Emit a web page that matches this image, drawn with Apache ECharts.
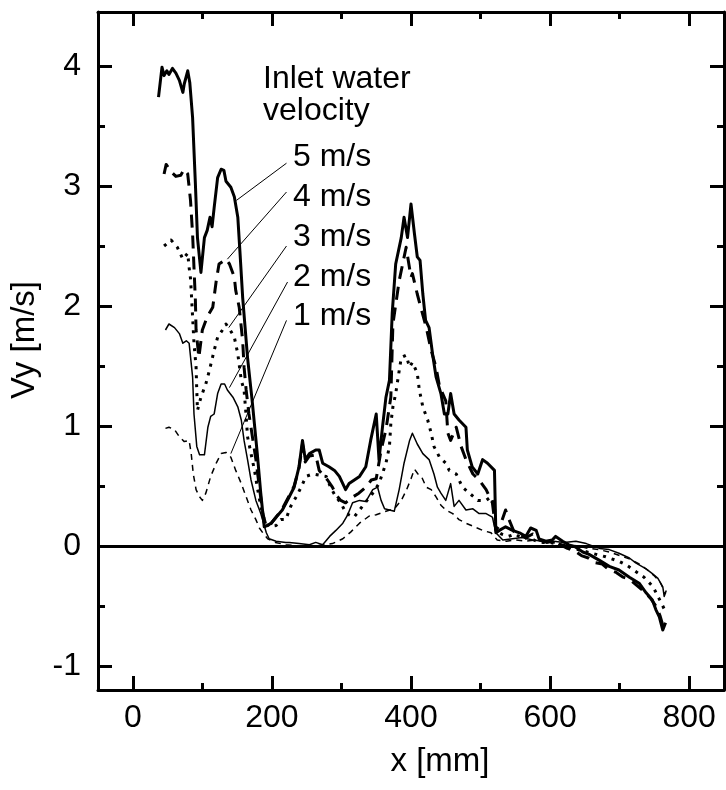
<!DOCTYPE html>
<html><head><meta charset="utf-8">
<script src="https://cdn.jsdelivr.net/npm/echarts@6/dist/echarts.min.js"></script>
<style>html,body{margin:0;padding:0;background:#fff}#c{width:726px;height:790px}</style>
</head><body><div id="c"></div>
<script>
const xMajorTicks=[0,200,400,600,800];
const xMinorTicks=[100,300,500,700];
const yMajorTicks=[-1,0,1,2,3,4];
const yMinorTicks=[-0.5,0.5,1.5,2.5,3.5];
const seriesNames=['5 m/s','4 m/s','3 m/s','2 m/s','1 m/s'];
const legendTitle=['Inlet water','velocity'];

const v5=[[37,3.74],[42,3.99],[45,3.92],[49,3.96],[52,3.93],[57,3.98],[62,3.94],[67,3.88],[72,3.78],[74,3.85],[79,3.96],[82,3.86],[86,3.57],[90,3.02],[93,2.57],[98,2.28],[103,2.57],[107,2.63],[111,2.74],[114,2.66],[117,2.82],[122,3.07],[127,3.14],[131,3.13],[134,3.04],[141,2.99],[146,2.91],[151,2.74],[154,2.46],[158,2.07],[165,1.57],[172,1.19],[179,0.77],[184,0.44],[189,0.16],[193,0.17],[199,0.19],[206,0.24],[215,0.30],[225,0.41],[232,0.49],[239,0.66],[244,0.88],[248,0.72],[254,0.77],[263,0.80],[268,0.80],[273,0.69],[282,0.66],[290,0.63],[297,0.58],[306,0.47],[311,0.52],[326,0.58],[335,0.66],[342,0.88],[350,1.10],[354,0.72],[359,0.99],[364,1.24],[369,1.38],[373,1.94],[378,2.35],[386,2.57],[390,2.74],[395,2.57],[400,2.85],[405,2.60],[409,2.41],[413,2.38],[417,2.10],[421,1.88],[426,1.82],[431,1.60],[436,1.41],[443,1.27],[448,1.10],[453,1.10],[457,1.27],[462,1.10],[469,1.05],[479,0.99],[481,0.80],[488,0.66],[496,0.60],[503,0.72],[510,0.69],[520,0.63],[522,0.11],[527,0.13],[536,0.16],[546,0.13],[556,0.11],[565,0.08],[572,0.15],[580,0.13],[584,0.06],[594,0.04],[603,0.05],[608,0.08],[618,0.04],[627,0.01],[637,-0.01],[647,-0.05],[656,-0.07],[671,-0.12],[685,-0.17],[699,-0.20],[714,-0.26],[728,-0.31],[738,-0.39],[747,-0.45],[752,-0.53],[757,-0.59],[762,-0.70],[766,-0.64]];

const v4=[[45,3.10],[48,3.18],[55,3.12],[62,3.08],[69,3.09],[74,3.14],[79,3.10],[83,2.88],[86,2.60],[88,2.32],[90,2.05],[91,1.80],[95,1.57],[100,1.80],[107,1.91],[115,1.99],[120,2.21],[124,2.35],[134,2.39],[139,2.35],[146,2.24],[148,2.13],[153,1.99],[158,1.71],[160,1.49],[163,1.30],[167,1.10],[172,0.91],[177,0.72],[182,0.49],[187,0.27],[192,0.16],[199,0.19],[206,0.24],[215,0.31],[225,0.42],[232,0.50],[239,0.65],[244,0.85],[248,0.70],[254,0.75],[263,0.76],[268,0.63],[280,0.55],[287,0.49],[293,0.42],[299,0.38],[306,0.36],[314,0.40],[325,0.44],[335,0.49],[343,0.55],[350,0.56],[357,0.80],[364,0.97],[371,1.24],[374,1.85],[383,2.21],[393,2.49],[400,2.24],[402,2.27],[409,2.10],[414,1.99],[422,1.82],[429,1.63],[436,1.49],[441,1.33],[450,1.21],[453,0.94],[457,0.88],[465,0.99],[472,0.83],[479,0.72],[489,0.60],[498,0.55],[508,0.47],[517,0.36],[522,0.13],[530,0.20],[536,0.30],[541,0.22],[548,0.12],[556,0.10],[565,0.07],[575,0.10],[585,0.05],[595,0.03],[605,0.04],[615,0.01],[625,-0.02],[635,-0.04],[645,-0.08],[655,-0.10],[665,-0.14],[675,-0.15],[685,-0.20],[695,-0.22],[705,-0.26],[715,-0.28],[725,-0.33],[735,-0.38],[745,-0.44],[752,-0.50],[758,-0.58],[762,-0.66],[765,-0.62]];

const v3=[[45,2.50],[55,2.55],[64,2.49],[72,2.39],[79,2.44],[81,2.32],[83,2.23],[84,2.13],[86,1.91],[88,1.69],[91,1.49],[92,1.30],[93,1.13],[98,1.24],[105,1.35],[110,1.46],[117,1.63],[122,1.74],[129,1.80],[134,1.85],[140,1.80],[146,1.74],[151,1.60],[156,1.38],[160,1.30],[163,1.08],[165,0.91],[170,0.77],[175,0.63],[179,0.49],[184,0.33],[189,0.22],[196,0.16],[206,0.17],[213,0.22],[220,0.22],[227,0.33],[235,0.41],[242,0.49],[249,0.58],[259,0.60],[268,0.59],[278,0.58],[285,0.48],[292,0.41],[299,0.36],[307,0.27],[318,0.24],[330,0.33],[345,0.44],[354,0.52],[364,0.69],[369,0.83],[371,1.02],[374,1.16],[378,1.27],[383,1.46],[386,1.57],[393,1.59],[398,1.49],[402,1.53],[409,1.44],[412,1.30],[417,1.16],[424,1.05],[429,0.94],[433,0.83],[441,0.74],[450,0.69],[455,0.63],[465,0.60],[474,0.49],[484,0.44],[496,0.38],[508,0.38],[515,0.41],[520,0.33],[522,0.13],[530,0.10],[540,0.08],[550,0.10],[560,0.06],[570,0.07],[580,0.04],[590,0.03],[600,0.03],[620,0.00],[640,-0.03],[660,-0.06],[680,-0.09],[700,-0.13],[710,-0.16],[720,-0.20],[735,-0.26],[748,-0.34],[755,-0.42],[762,-0.50],[766,-0.55]];

const v2=[[47,1.80],[52,1.85],[60,1.82],[67,1.77],[72,1.69],[77,1.71],[81,1.69],[86,1.41],[88,1.10],[92,0.83],[96,0.76],[103,0.76],[108,0.99],[112,1.08],[117,1.10],[122,1.27],[127,1.35],[132,1.35],[136,1.30],[144,1.24],[151,1.16],[156,1.05],[160,0.88],[165,0.72],[170,0.55],[177,0.38],[184,0.27],[192,0.11],[196,0.06],[206,0.04],[220,0.03],[225,0.03],[239,0.02],[254,0.01],[263,0.03],[273,0.01],[283,0.08],[292,0.13],[302,0.19],[309,0.26],[316,0.36],[326,0.38],[335,0.37],[345,0.47],[352,0.49],[357,0.38],[362,0.31],[369,0.30],[376,0.29],[383,0.47],[390,0.69],[398,0.88],[402,0.94],[409,0.85],[417,0.77],[426,0.72],[433,0.60],[438,0.49],[443,0.44],[450,0.38],[457,0.52],[462,0.33],[469,0.38],[479,0.30],[489,0.31],[498,0.27],[508,0.27],[517,0.24],[522,0.11],[532,0.05],[546,0.06],[560,0.07],[575,0.05],[590,0.04],[605,0.04],[620,0.03],[637,0.04],[652,0.02],[671,-0.02],[685,-0.03],[699,-0.06],[714,-0.10],[723,-0.14],[738,-0.19],[747,-0.23],[755,-0.27],[762,-0.34],[764,-0.42],[767,-0.37]];

const v1=[[47,0.98],[52,0.99],[60,0.97],[67,0.91],[74,0.87],[81,0.88],[84,0.77],[87,0.60],[91,0.47],[96,0.41],[100,0.38],[105,0.44],[112,0.58],[120,0.69],[127,0.77],[134,0.78],[141,0.74],[148,0.63],[156,0.52],[163,0.41],[170,0.30],[177,0.22],[182,0.15],[187,0.11],[194,0.06],[205,0.03],[220,0.01],[240,0.00],[260,0.00],[275,0.01],[287,0.02],[302,0.06],[314,0.12],[326,0.19],[340,0.25],[350,0.26],[364,0.29],[376,0.31],[386,0.38],[393,0.46],[400,0.56],[405,0.64],[410,0.60],[415,0.58],[422,0.49],[429,0.47],[436,0.41],[443,0.34],[450,0.30],[460,0.27],[469,0.22],[479,0.19],[491,0.16],[503,0.13],[515,0.11],[524,0.05],[537,0.04],[550,0.05],[565,0.04],[580,0.05],[595,0.04],[610,0.02],[625,0.01],[640,0.00],[655,-0.02],[670,-0.03],[685,-0.05],[700,-0.08],[715,-0.11],[728,-0.15],[740,-0.20],[750,-0.25],[758,-0.30],[763,-0.36],[766,-0.40]];

// leader lines from the labels to the curves, [label end, curve end] in data units
const leaderLines=[[[221,3.19],[149,2.88]],[[221,2.95],[136,2.39]],[[221,2.50],[138,1.82]],[[222.5,2.20],[139,1.32]],[[221,1.88],[141,0.77]]];

const FONT="'Liberation Sans', Arial, Helvetica, sans-serif";
const black='#000';

function xAx(pos,major){
  return {type:'value',min:-50,max:850,position:pos,
    axisLine:{show:major,onZero:false,lineStyle:{color:black,width:3}},
    axisTick:{show:true,inside:true,length:major?14:7,customValues:major?xMajorTicks:xMinorTicks,lineStyle:{color:black,width:3}},
    axisLabel:{show:major&&pos==='bottom',customValues:xMajorTicks,margin:12,color:black,fontSize:32,fontFamily:FONT},
    splitLine:{show:false}};
}
function yAx(pos,major){
  return {type:'value',min:-1.2,max:4.45,position:pos,
    axisLine:{show:major,onZero:false,lineStyle:{color:black,width:3}},
    axisTick:{show:true,inside:true,length:major?14:7,customValues:major?yMajorTicks:yMinorTicks,lineStyle:{color:black,width:3}},
    axisLabel:{show:major&&pos==='left',customValues:yMajorTicks,margin:17,color:black,fontSize:32,fontFamily:FONT},
    splitLine:{show:false}};
}
const xAxes=[xAx('bottom',true),xAx('bottom',false),xAx('top',true),xAx('top',false)];
Object.assign(xAxes[0],{name:'x [mm]',nameLocation:'middle',nameGap:55,nameTextStyle:{color:black,fontSize:33,fontFamily:FONT,padding:[0,0,0,58]}});
const yAxes=[yAx('left',true),yAx('left',false),yAx('right',true),yAx('right',false)];
Object.assign(yAxes[0],{name:'Vy [m/s]',nameLocation:'middle',nameGap:50,nameTextStyle:{color:black,fontSize:33,fontFamily:FONT,padding:[0,0,0,22]}});

const styles=[
  {width:3,type:'solid'},
  {width:3,type:[13,8]},
  {width:3,type:[3,6]},
  {width:1.5,type:'solid'},
  {width:1.5,type:[6,5]}
];
const datas=[v5,v4,v3,v2,v1];
const series=datas.map((d,i)=>({
  name:seriesNames[i],type:'line',data:d,symbol:'none',showSymbol:false,
  lineStyle:Object.assign({color:black,cap:'butt',join:'round'},styles[i]),
  xAxisIndex:0,yAxisIndex:0,z:3
}));
series[0].markLine={silent:true,symbol:['none','none'],label:{show:false},
  data:[{yAxis:0,lineStyle:{color:black,width:3,type:'solid'}}].concat(
    leaderLines.map(l=>[{coord:l[0],lineStyle:{color:black,width:1,type:'solid'}},{coord:l[1]}]))};

const labelTexts=legendTitle.concat(seriesNames);
const labelPos=[[263,79],[263,111],[293,157],[293,197],[293,237],[293,277],[293,316]];
const graphic=labelTexts.map((t,i)=>({type:'text',x:labelPos[i][0],y:labelPos[i][1],
  style:{text:t,fill:black,font:'32px '+FONT,textAlign:'left',textVerticalAlign:'middle'}}));

const chart=echarts.init(document.getElementById('c'),null,{renderer:'canvas'});
chart.setOption({
  animation:false,backgroundColor:'#fff',
  grid:{left:98,right:2,top:12,bottom:100,containLabel:false},
  xAxis:xAxes,yAxis:yAxes,series:series,graphic:graphic
});
</script></body></html>
